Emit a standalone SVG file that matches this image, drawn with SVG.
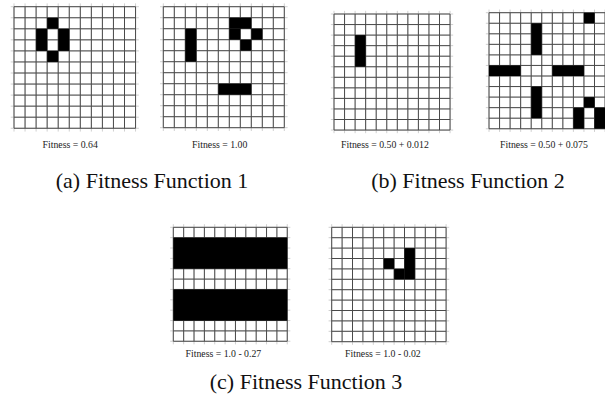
<svg xmlns="http://www.w3.org/2000/svg" xmlns:xlink="http://www.w3.org/1999/xlink" width="605" height="398" viewBox="0 0 605 398">
<style>
.ext{fill:none;stroke:#d0d0d0;stroke-width:1}
.gl{fill:none;stroke:#4a4a4a;stroke-width:1}
.on{fill:#000}
.lbl{font-family:"Liberation Serif","Times New Roman",serif;font-size:9.8px;fill:#222}
.cap{font-family:"Liberation Serif","Times New Roman",serif;font-size:22px;fill:#111}
</style>
<defs>
<g id="grid">
<path class="ext" vector-effect="non-scaling-stroke" d="M0 -0.3V11.3M1 -0.3V11.3M2 -0.3V11.3M3 -0.3V11.3M4 -0.3V11.3M5 -0.3V11.3M6 -0.3V11.3M7 -0.3V11.3M8 -0.3V11.3M9 -0.3V11.3M10 -0.3V11.3M11 -0.3V11.3M-0.3 0H11.3M-0.3 1H11.3M-0.3 2H11.3M-0.3 3H11.3M-0.3 4H11.3M-0.3 5H11.3M-0.3 6H11.3M-0.3 7H11.3M-0.3 8H11.3M-0.3 9H11.3M-0.3 10H11.3M-0.3 11H11.3"/>
<path class="gl" vector-effect="non-scaling-stroke" d="M0 0V11M1 0V11M2 0V11M3 0V11M4 0V11M5 0V11M6 0V11M7 0V11M8 0V11M9 0V11M10 0V11M11 0V11M0 0H11M0 1H11M0 2H11M0 3H11M0 4H11M0 5H11M0 6H11M0 7H11M0 8H11M0 9H11M0 10H11M0 11H11"/>
</g>
</defs>

<g id="panel-a1">
<g transform="translate(14,6.7) scale(11.05)">
<use xlink:href="#grid"/>
<rect class="on" x="3" y="1" width="1" height="1"/>
<rect class="on" x="2" y="2" width="1" height="2"/>
<rect class="on" x="4" y="2" width="1" height="2"/>
<rect class="on" x="3" y="4" width="1" height="1"/>
</g>
<text class="lbl" x="42.5" y="147.5">Fitness = 0.64</text>
</g>

<g id="panel-a2">
<g transform="translate(163.3,6.7) scale(11)">
<use xlink:href="#grid"/>
<rect class="on" x="2" y="2" width="1" height="3"/>
<rect class="on" x="6" y="1" width="2" height="1"/>
<rect class="on" x="6" y="2" width="1" height="1"/>
<rect class="on" x="8" y="2" width="1" height="1"/>
<rect class="on" x="7" y="3" width="1" height="1"/>
<rect class="on" x="5" y="7" width="3" height="1"/>
</g>
<text class="lbl" x="192" y="147.5">Fitness = 1.00</text>
</g>

<g id="panel-b1">
<g transform="translate(334,14) scale(10.55)">
<use xlink:href="#grid"/>
<rect class="on" x="2" y="2" width="1" height="3"/>
</g>
<text class="lbl" x="341" y="147.5">Fitness = 0.50 + 0.012</text>
</g>

<g id="panel-b2">
<g transform="translate(489,12.7) scale(10.55)">
<use xlink:href="#grid"/>
<rect class="on" x="9" y="0" width="1" height="1"/>
<rect class="on" x="4" y="1" width="1" height="3"/>
<rect class="on" x="0" y="5" width="3" height="1"/>
<rect class="on" x="6" y="5" width="3" height="1"/>
<rect class="on" x="4" y="7" width="1" height="3"/>
<rect class="on" x="9" y="8" width="1" height="1"/>
<rect class="on" x="8" y="9" width="1" height="2"/>
<rect class="on" x="10" y="9" width="1" height="2"/>
</g>
<text class="lbl" x="500" y="147.5">Fitness = 0.50 + 0.075</text>
</g>

<g id="panel-c1">
<g transform="translate(173.3,227.3) scale(10.36)">
<use xlink:href="#grid"/>
<rect class="on" x="0" y="1" width="11" height="3"/>
<rect class="on" x="0" y="6" width="11" height="3"/>
</g>
<text class="lbl" x="185.5" y="356.5">Fitness = 1.0 - 0.27</text>
</g>

<g id="panel-c2">
<g transform="translate(331.7,227.3) scale(10.4)">
<use xlink:href="#grid"/>
<rect class="on" x="5" y="3" width="1" height="1"/>
<rect class="on" x="7" y="2" width="1" height="3"/>
<rect class="on" x="6" y="4" width="1" height="1"/>
</g>
<text class="lbl" x="345" y="356.5">Fitness = 1.0 - 0.02</text>
</g>

<g id="captions">
<text class="cap" x="152" y="188" text-anchor="middle">(a) Fitness Function 1</text>
<text class="cap" x="468" y="188" text-anchor="middle">(b) Fitness Function 2</text>
<text class="cap" x="306" y="389" text-anchor="middle">(c) Fitness Function 3</text>
</g>
</svg>
